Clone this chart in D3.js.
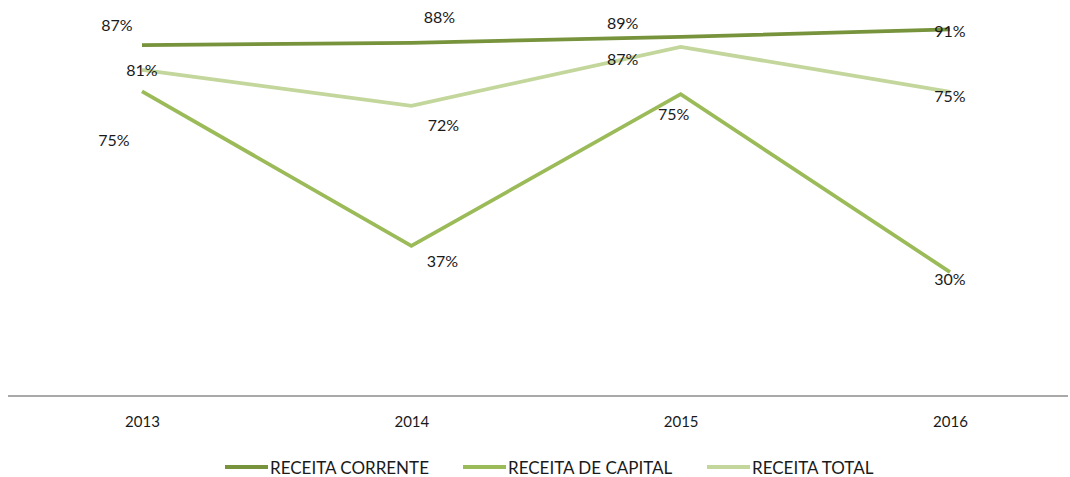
<!DOCTYPE html>
<html>
<head>
<meta charset="utf-8">
<script src="https://cdnjs.cloudflare.com/ajax/libs/d3/7.8.5/d3.min.js"></script>
<style>
  body { margin: 0; background: #fff; }
  text { font-family: Lato, "Open Sans", sans-serif; fill: #1a1a1a; }
</style>
</head>
<body>
<svg id="chart" width="1070" height="477"></svg>
<script>
const years = ["2013", "2014", "2015", "2016"];
const receitaCorrente = [87.0, 87.6, 89.1, 91.0];
const receitaCapital = [75.4, 36.6, 74.7, 30.0];
const receitaTotal = [80.8, 71.8, 86.6, 75.3];
const seriesNames = ["RECEITA CORRENTE", "RECEITA DE CAPITAL", "RECEITA TOTAL"];

const colors = ["#77933C", "#9BBB59", "#C3D69B"];

// label nudges (dx, dy from the point), one row per series
const labelNudge = [
  [[-25, -21], [28, -26], [-58, -14], [0, 1]],
  [[-28, 48], [31, 15], [-7, 19], [0, 6]],
  [[0, 0], [32, 19], [-58, 12], [0, 4]]
];

const svg = d3.select("#chart");

const x = d3.scalePoint()
  .domain(years)
  .range([142, 950]);

const y = d3.scaleLinear()
  .domain([0, 100])
  .range([391.5, -6.5]);

const series = [receitaCorrente, receitaCapital, receitaTotal].map((vals, i) => ({
  name: seriesNames[i],
  color: colors[i],
  values: vals.map((v, j) => ({ year: years[j], value: v }))
}));

// x axis
const xAxis = svg.append("g")
  .attr("transform", "translate(0,396)")
  .call(d3.axisBottom(x).tickSize(0).tickPadding(20));
xAxis.select(".domain").remove();
xAxis.selectAll("text")
  .style("font-size", "15px")
  .style("font-family", "Lato, sans-serif")
  .attr("fill", "#1a1a1a");

svg.append("line")
  .attr("x1", 8)
  .attr("x2", 1068)
  .attr("y1", 396)
  .attr("y2", 396)
  .attr("stroke", "#8c8c8c")
  .attr("stroke-width", 1.5);

const line = d3.line()
  .x((d) => x(d.year))
  .y((d) => y(d.value));

// draw lines back to front so corrente sits on top
[2, 1, 0].forEach((i) => {
  svg.append("path")
    .attr("d", line(series[i].values))
    .attr("fill", "none")
    .attr("stroke", series[i].color)
    .attr("stroke-width", 3.75)
    .attr("stroke-linejoin", "miter");
});

series.forEach((s, i) => {
  svg.append("g")
    .selectAll("text")
    .data(s.values)
    .join("text")
    .attr("x", (d, j) => x(d.year) + labelNudge[i][j][0])
    .attr("y", (d, j) => y(d.value) + labelNudge[i][j][1])
    .attr("text-anchor", "middle")
    .attr("dominant-baseline", "central")
    .style("font-size", "16px")
    .text((d) => Math.round(d.value) + "%");
});

// legend
const legendX = [225, 463, 707];
const legend = svg.append("g");
series.forEach((s, i) => {
  legend.append("line")
    .attr("x1", legendX[i])
    .attr("x2", legendX[i] + 43)
    .attr("y1", 467)
    .attr("y2", 467)
    .attr("stroke", s.color)
    .attr("stroke-width", 4);
  legend.append("text")
    .attr("x", legendX[i] + 45)
    .attr("y", 467)
    .attr("dominant-baseline", "central")
    .style("font-size", "17px")
    .text(s.name);
});
</script>
</body>
</html>
